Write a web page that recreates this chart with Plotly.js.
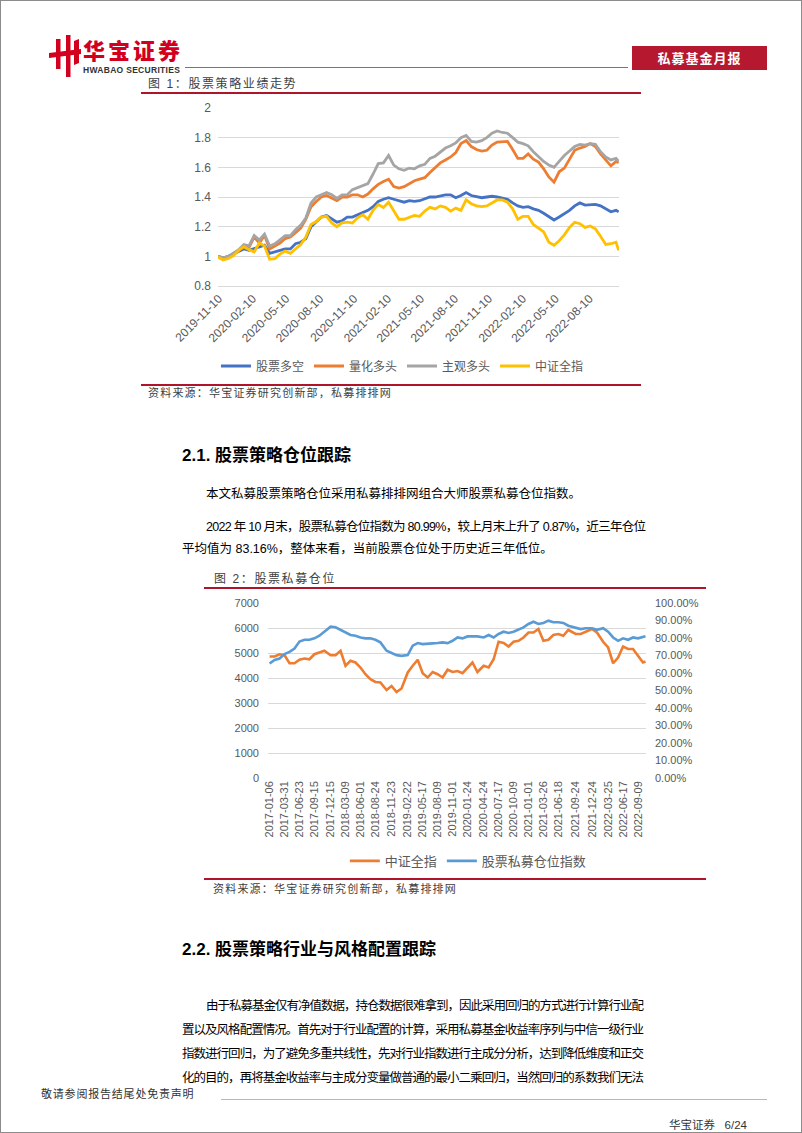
<!DOCTYPE html>
<html><head><meta charset="utf-8">
<script src="https://cdn.plot.ly/plotly-3.0.1.min.js"></script>
<style>
html,body{margin:0;padding:0;background:#fff;}
#page{position:relative;width:802px;height:1133px;box-sizing:border-box;border:1px solid #8c8c8c;overflow:hidden;font-family:"Liberation Sans","Noto Sans CJK SC",sans-serif;color:#000;}
.t{position:absolute;white-space:nowrap;line-height:20px;height:20px;}
.cap{font-size:12px;color:#404040;letter-spacing:1.6px;}
.src{font-size:11px;color:#404040;letter-spacing:1.2px;}
.h2{font-size:17px;font-weight:bold;line-height:24px;height:24px;}
.body{font-size:12.5px;}
.rule{position:absolute;height:2px;background:#B0142B;}
</style></head>
<body>
<div id="page">
  <!-- header -->
  <svg class="t" style="left:46px;top:34px;width:36px;height:42px;" viewBox="0 0 36 42">
    <polygon points="2,18 34,14 34,19 2,23" fill="#D2001E"/>
    <rect x="9" y="4" width="4.5" height="30" fill="#D2001E"/>
    <rect x="19" y="0" width="4.5" height="42" fill="#D2001E"/>
    <polygon points="27,6 32,4 32,28 27,30" fill="#D2001E"/>
  </svg>
  <div class="t" style="left:82px;top:37px;font-size:22px;line-height:22px;height:22px;font-weight:900;color:#D2001E;font-family:'Noto Sans CJK SC';letter-spacing:3px;">华宝证券</div>
  <div class="t" style="left:82px;top:65px;font-size:8.5px;line-height:8px;height:8px;font-weight:bold;color:#333;letter-spacing:0.3px;">HWABAO SECURITIES</div>
  <div style="position:absolute;left:184px;top:66px;width:443px;height:1px;background:#C9505F;"></div>
  <div style="position:absolute;left:631px;top:45px;width:135px;height:24px;background:#B5182F;color:#fff;font-size:13px;font-weight:bold;line-height:24px;text-align:center;font-family:'Noto Sans CJK SC';letter-spacing:1px;">私募基金月报</div>

  <!-- figure 1 -->
  <div class="t cap" style="left:147px;top:73px;">图 1：股票策略业绩走势</div>
  <div class="rule" style="left:140px;top:91px;width:500px;"></div>
  <div id="chart1" style="position:absolute;left:140px;top:95px;width:500px;height:300px;"></div>
  <div class="rule" style="left:140px;top:383px;width:500px;"></div>
  <div class="t src" style="left:147px;top:382px;">资料来源：华宝证券研究创新部，私募排排网</div>

  <!-- section 2.1 -->
  <div class="t h2" style="left:181px;top:443px;">2.1. 股票策略仓位跟踪</div>
  <div class="t body" style="left:205px;top:483px;">本文私募股票策略仓位采用私募排排网组合大师股票私募仓位指数。</div>
  <div class="t body fit" data-w="440" style="left:205px;top:516px;">2022 年 10 月末，股票私募仓位指数为 80.99%，较上月末上升了 0.87%，近三年仓位</div>
  <div class="t body" style="left:181px;top:538px;">平均值为 83.16%，整体来看，当前股票仓位处于历史近三年低位。</div>

  <!-- figure 2 -->
  <div class="t cap" style="left:213px;top:568px;">图 2：股票私募仓位</div>
  <div class="rule" style="left:203px;top:586px;width:502px;"></div>
  <div id="chart2" style="position:absolute;left:200px;top:592px;width:520px;height:290px;"></div>
  <div class="rule" style="left:203px;top:877px;width:502px;"></div>
  <div class="t src" style="left:212px;top:878px;">资料来源：华宝证券研究创新部，私募排排网</div>

  <!-- section 2.2 -->
  <div class="t h2" style="left:181px;top:937px;">2.2. 股票策略行业与风格配置跟踪</div>
  <div class="t body fit" data-w="438" style="left:205px;top:995px;">由于私募基金仅有净值数据，持仓数据很难拿到，因此采用回归的方式进行计算行业配</div>
  <div class="t body fit" data-w="462" style="left:181px;top:1019px;">置以及风格配置情况。首先对于行业配置的计算，采用私募基金收益率序列与中信一级行业</div>
  <div class="t body fit" data-w="462" style="left:181px;top:1043px;">指数进行回归，为了避免多重共线性，先对行业指数进行主成分分析，达到降低维度和正交</div>
  <div class="t body fit" data-w="462" style="left:181px;top:1067px;">化的目的，再将基金收益率与主成分变量做普通的最小二乘回归，当然回归的系数我们无法</div>

  <!-- footer -->
  <div class="t" style="left:40px;top:1083px;font-size:11px;color:#333;letter-spacing:0.8px;">敬请参阅报告结尾处免责声明</div>
  <div style="position:absolute;left:220px;top:1098px;width:546px;height:1px;background:#E4A3AE;"></div>
  <div class="t" style="left:668px;top:1114px;font-size:11.5px;color:#333;">华宝证券&nbsp;&nbsp;&nbsp;6/24</div>
</div>

<script>
// ---------- Figure 1 data ----------
const dates1 = ['2019-11-08','2019-11-22','2019-12-06','2019-12-20','2020-01-03','2020-01-17','2020-01-31','2020-02-14','2020-02-28','2020-03-13',
'2020-03-27','2020-04-10','2020-04-24','2020-05-08','2020-05-22','2020-06-05','2020-06-19','2020-07-03','2020-07-17','2020-07-31',
'2020-08-14','2020-08-28','2020-09-11','2020-09-25','2020-10-09','2020-10-23','2020-11-06','2020-11-20','2020-12-04','2020-12-18',
'2021-01-01','2021-01-15','2021-01-29','2021-02-12','2021-02-26','2021-03-12','2021-03-26','2021-04-09','2021-04-23','2021-05-07',
'2021-05-21','2021-06-04','2021-06-18','2021-07-02','2021-07-16','2021-07-30','2021-08-13','2021-08-27','2021-09-10','2021-09-24',
'2021-10-08','2021-10-22','2021-11-05','2021-11-19','2021-12-03','2021-12-17','2021-12-31','2022-01-14','2022-01-28','2022-02-11',
'2022-02-25','2022-03-11','2022-03-25','2022-04-08','2022-04-22','2022-05-06','2022-05-20','2022-06-03','2022-06-17','2022-07-01',
'2022-07-15','2022-07-29','2022-08-12','2022-08-26','2022-09-09','2022-09-23','2022-10-07','2022-10-21','2022-10-28'];
const longShort = [1.00,0.99,1.00,1.015,1.035,1.05,1.04,1.05,1.065,1.075,
 1.02,1.03,1.045,1.05,1.05,1.085,1.095,1.12,1.20,1.23,
 1.265,1.275,1.25,1.23,1.24,1.265,1.265,1.28,1.29,1.31,
 1.335,1.37,1.385,1.395,1.385,1.375,1.365,1.375,1.37,1.375,
 1.385,1.40,1.40,1.41,1.415,1.415,1.395,1.41,1.43,1.41,
 1.40,1.395,1.40,1.405,1.40,1.395,1.385,1.36,1.34,1.33,
 1.335,1.32,1.31,1.29,1.265,1.245,1.265,1.285,1.31,1.34,
 1.36,1.345,1.35,1.35,1.34,1.32,1.30,1.31,1.30];
const quantLong = [1.00,0.985,0.995,1.015,1.04,1.07,1.06,1.13,1.09,1.14,
 1.05,1.07,1.09,1.12,1.13,1.16,1.19,1.25,1.335,1.37,
 1.40,1.41,1.395,1.375,1.40,1.40,1.415,1.415,1.40,1.42,
 1.455,1.485,1.505,1.52,1.47,1.46,1.47,1.49,1.51,1.52,
 1.53,1.565,1.60,1.63,1.65,1.67,1.70,1.76,1.78,1.74,
 1.72,1.71,1.715,1.75,1.77,1.77,1.775,1.72,1.66,1.66,
 1.69,1.655,1.635,1.59,1.535,1.50,1.57,1.595,1.66,1.715,
 1.73,1.74,1.76,1.74,1.69,1.65,1.61,1.64,1.63];
const subjLong = [1.00,0.99,1.00,1.02,1.045,1.08,1.07,1.14,1.11,1.15,
 1.07,1.085,1.11,1.14,1.14,1.18,1.21,1.26,1.36,1.40,
 1.415,1.43,1.415,1.39,1.415,1.415,1.45,1.465,1.475,1.49,
 1.555,1.625,1.63,1.68,1.615,1.59,1.58,1.595,1.59,1.61,
 1.62,1.66,1.675,1.705,1.73,1.745,1.765,1.80,1.815,1.775,
 1.77,1.78,1.80,1.83,1.845,1.835,1.83,1.80,1.77,1.76,
 1.745,1.705,1.67,1.64,1.615,1.60,1.64,1.68,1.71,1.74,
 1.755,1.75,1.76,1.755,1.705,1.67,1.65,1.66,1.64];
const csiAll1 = [0.995,0.975,0.985,1.005,1.04,1.065,1.045,1.03,1.09,1.07,
 0.98,0.985,1.015,1.035,1.02,1.05,1.08,1.13,1.215,1.235,
 1.265,1.27,1.225,1.20,1.225,1.23,1.225,1.26,1.28,1.25,
 1.31,1.35,1.33,1.365,1.31,1.25,1.25,1.26,1.275,1.27,
 1.305,1.33,1.32,1.34,1.33,1.305,1.325,1.31,1.38,1.355,
 1.34,1.335,1.34,1.36,1.38,1.38,1.365,1.32,1.25,1.27,
 1.27,1.215,1.19,1.165,1.095,1.075,1.105,1.145,1.195,1.23,
 1.22,1.195,1.205,1.185,1.135,1.08,1.085,1.095,1.04];
const seriesNames1 = ['股票多空','量化多头','主观多头','中证全指'];
const xTicks1 = ['2019-11-10','2020-02-10','2020-05-10','2020-08-10','2020-11-10','2021-02-10','2021-05-10','2021-08-10','2021-11-10','2022-02-10','2022-05-10','2022-08-10'];
const yTicks1 = [0.8,1,1.2,1.4,1.6,1.8,2];
const yTickText1 = ['0.8','1','1.2','1.4','1.6','1.8','2'];

// ---------- Figure 2 data ----------
const dates2 = ['2017-01-06','2017-02-03','2017-03-03','2017-03-31','2017-04-28','2017-05-26','2017-06-23','2017-07-21','2017-08-18','2017-09-15','2017-10-13','2017-11-10','2017-12-15',
'2018-01-12','2018-02-09','2018-03-09','2018-04-06','2018-05-04','2018-06-01','2018-06-29','2018-07-27','2018-08-24','2018-09-21','2018-10-26','2018-11-23','2018-12-21',
'2019-01-18','2019-02-22','2019-03-22','2019-04-19','2019-05-17','2019-06-14','2019-07-12','2019-08-09','2019-09-06','2019-10-04','2019-11-01','2019-11-29','2019-12-27',
'2020-01-24','2020-02-21','2020-03-20','2020-04-24','2020-05-22','2020-06-19','2020-07-17','2020-08-14','2020-09-11','2020-10-09','2020-11-06','2020-12-04',
'2021-01-01','2021-01-29','2021-02-26','2021-03-26','2021-04-23','2021-05-21','2021-06-18','2021-07-16','2021-08-13','2021-09-24','2021-10-22','2021-11-19','2021-12-24',
'2022-01-21','2022-02-25','2022-03-25','2022-04-22','2022-05-20','2022-06-17','2022-07-15','2022-08-12','2022-09-09','2022-10-07','2022-10-21'];
const csiAll2 = [4860,4860,4950,4910,4590,4590,4730,4780,4750,4950,
 5020,5090,4910,4910,5090,4490,4690,4620,4420,4150,
 3950,3840,3820,3520,3680,3440,3580,4220,4490,4730,
 4190,4020,4240,4150,4020,4330,4240,4280,4190,4420,
 4620,4240,4490,4420,4750,5450,5400,5260,5450,5490,
 5620,5820,5820,5960,5490,5530,5720,5760,5690,5920,
 5760,5760,5860,5960,5820,5450,5220,4590,4820,5260,
 5160,5160,4890,4620,4660];
const positionIdx = [65.4,67.5,68.3,70.8,72.1,74.0,78.0,79.0,79.0,79.8,
 81.3,83.6,86.5,86.1,84.6,83.2,81.7,81.3,80.3,79.8,
 79.8,79.0,77.5,72.7,71.3,70.2,69.8,70.2,75.6,77.1,
 76.5,76.5,76.9,77.1,77.5,77.1,78.4,80.3,79.8,80.9,
 80.9,80.9,80.3,81.7,80.3,82.3,83.6,82.9,83.6,84.7,
 86.1,88.0,89.3,88.0,88.6,89.9,89.0,89.0,88.6,87.0,
 86.1,85.1,85.6,85.6,84.7,85.6,83.6,80.3,78.4,79.8,
 79.0,80.3,79.8,80.3,80.99];
const seriesNames2 = ['中证全指','股票私募仓位指数'];
const xTicks2 = ['2017-01-06','2017-03-31','2017-06-23','2017-09-15','2017-12-15','2018-03-09','2018-06-01','2018-08-24','2018-11-23','2019-02-22','2019-05-17','2019-08-09','2019-11-01','2020-01-24','2020-04-24','2020-07-17','2020-10-09','2021-01-01','2021-03-26','2021-06-18','2021-09-24','2021-12-24','2022-03-25','2022-06-17','2022-09-09'];
const yTicks2 = [0,1000,2000,3000,4000,5000,6000,7000];
const y2Ticks = [0,10,20,30,40,50,60,70,80,90,100];
const y2TickText = ['0.00%','10.00%','20.00%','30.00%','40.00%','50.00%','60.00%','70.00%','80.00%','90.00%','100.00%'];

const tickFont = {family:'Liberation Sans, Arial, sans-serif', size:12, color:'#595959'};
const legFont = {family:'Noto Sans CJK SC, sans-serif', size:12, color:'#595959'};

const colors1 = ['#4472C4','#ED7D31','#A5A5A5','#FFC000'];
const vals1 = [longShort, quantLong, subjLong, csiAll1];
const traces1 = vals1.map((v,i)=>({type:'scatter',mode:'lines',x:dates1,y:v,name:seriesNames1[i],
  line:{color:colors1[i],width:2.8}}));

Plotly.newPlot('chart1', traces1, {
  width:500, height:300,
  margin:{l:77,r:22,t:12,b:110},
  paper_bgcolor:'rgba(0,0,0,0)', plot_bgcolor:'rgba(0,0,0,0)',
  font:tickFont,
  xaxis:{type:'date', range:['2019-11-08','2022-10-29'], tickvals:xTicks1, ticktext:xTicks1, tickangle:-45, automargin:false,
    showgrid:false, zeroline:false, showline:true, linecolor:'#D9D9D9', linewidth:1, ticks:'', tickfont:tickFont},
  yaxis:{range:[0.8,2], tickvals:yTicks1, ticktext:yTickText1, showgrid:true, gridcolor:'#D9D9D9', gridwidth:1, automargin:false,
    zeroline:false, showline:false, ticks:'', tickfont:tickFont, ticklabelstandoff:6},
  showlegend:true,
  legend:{orientation:'h', x:0.46, xanchor:'center', yref:'container', y:0.1, yanchor:'middle', font:legFont, traceorder:'normal'}
}, {staticPlot:true, displayModeBar:false});

const traces2 = [
  {type:'scatter',mode:'lines',x:dates2,y:csiAll2,name:seriesNames2[0],line:{color:'#ED7D31',width:2.6},yaxis:'y'},
  {type:'scatter',mode:'lines',x:dates2,y:positionIdx,name:seriesNames2[1],line:{color:'#5B9BD5',width:2.6},yaxis:'y2'}
];
const tickFont2 = {family:'Liberation Sans, Arial, sans-serif', size:11, color:'#595959'};
Plotly.newPlot('chart2', traces2, {
  width:520, height:290,
  margin:{l:67,r:75,t:10,b:105},
  paper_bgcolor:'rgba(0,0,0,0)', plot_bgcolor:'rgba(0,0,0,0)',
  font:tickFont2,
  xaxis:{type:'date', range:['2016-12-28','2022-10-24'], tickvals:xTicks2, ticktext:xTicks2, tickangle:-90, automargin:false,
    showgrid:false, zeroline:false, showline:false, ticks:'', tickfont:tickFont2},
  yaxis:{range:[0,7000], tickvals:yTicks2, showgrid:true, gridcolor:'#D9D9D9', zeroline:false, showline:false, ticks:'', tickfont:tickFont2, automargin:false, ticklabelstandoff:8},
  yaxis2:{range:[0,100], tickvals:y2Ticks, ticktext:y2TickText, overlaying:'y', side:'right', showgrid:false, zeroline:false, showline:false, ticks:'', tickfont:tickFont2, automargin:false, ticklabelstandoff:8},
  showlegend:true,
  legend:{orientation:'h', x:0.53, xanchor:'center', yref:'container', y:0.076, yanchor:'middle', font:{family:'Noto Sans CJK SC, sans-serif', size:13, color:'#595959'}}
}, {staticPlot:true, displayModeBar:false});

function fitLines(){
  document.querySelectorAll('.fit').forEach(el=>{
    el.style.letterSpacing='0px';
    const target = +el.dataset.w;
    const n = [...el.textContent].length;
    const w = el.getBoundingClientRect().width;
    el.style.letterSpacing = ((target - w)/(n-1))+'px';
  });
}
fitLines();
if (document.fonts && document.fonts.ready) document.fonts.ready.then(fitLines);
</script>
</body></html>
